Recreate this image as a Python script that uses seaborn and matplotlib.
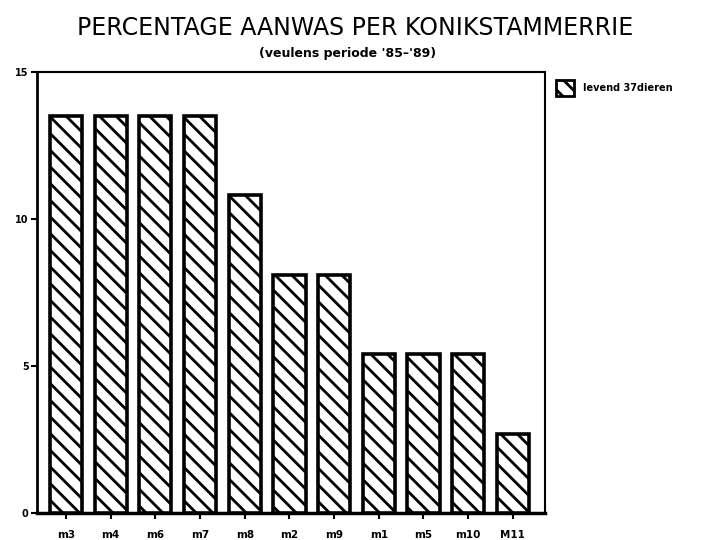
import matplotlib
matplotlib.use("Agg")
import matplotlib.pyplot as plt
import matplotlib.patches as mpatches
import seaborn as sns
import pandas as pd

mares = ["m3", "m4", "m6", "m7", "m8", "m2", "m9", "m1", "m5", "m10", "M11"]
pct_foals = [13.5, 13.5, 13.5, 13.5, 10.8, 8.1, 8.1, 5.4, 5.4, 5.4, 2.7]
y_ticks = [0, 5, 10, 15]
legend_label = "levend 37dieren"

df = pd.DataFrame({"merrie": mares, "aanwas": pct_foals})

sns.set_style("white")
plt.rcParams["font.family"] = ["DejaVu Sans"]
plt.rcParams["hatch.linewidth"] = 2.0
plt.rcParams["text.color"] = "black"
plt.rcParams["xtick.color"] = "black"
plt.rcParams["ytick.color"] = "black"

fig = plt.figure(figsize=(7.08, 5.4), dpi=100)
ax = fig.add_axes([37 / 708, 27 / 540, 508 / 708, 441 / 540])

sns.barplot(data=df, x="merrie", y="aanwas", color="white", edgecolor="black",
            linewidth=2.6, width=0.72, ax=ax, zorder=3)
for bar in ax.patches:
    bar.set_hatch("\\\\")
    bar.set_facecolor("white")

ax.set_xlim(-0.65, 10.72)
ax.set_ylim(0, 15)
ax.set_yticks(y_ticks)
ax.set_yticklabels([str(t) for t in y_ticks], fontsize=7, fontweight="bold")
ax.set_xticks(range(len(mares)))
ax.set_xticklabels(mares, fontsize=7.5, fontweight="bold")
ax.tick_params(axis="both", direction="out", length=4, width=1.5, color="black",
               left=True, bottom=True, pad=2)
ax.tick_params(axis="x", pad=8)
ax.set_xlabel("")
ax.set_ylabel("")
for side in ["left", "right", "top", "bottom"]:
    ax.spines[side].set_visible(True)
    ax.spines[side].set_color("black")
ax.spines["left"].set_linewidth(2)
ax.spines["bottom"].set_linewidth(2.5)
ax.spines["top"].set_linewidth(1.5)
ax.spines["right"].set_linewidth(1.5)

handle = mpatches.Patch(facecolor="white", edgecolor="black", hatch="\\\\",
                        linewidth=2, label=legend_label)
fig.legend(handles=[handle], loc="upper left", bbox_to_anchor=(556 / 708, 1 - 80 / 540),
           frameon=False, prop={"size": 7, "weight": "bold"}, handlelength=1.9,
           handleheight=2.2, handletextpad=0.9, borderaxespad=0, borderpad=0)

fig.text(355 / 708, 1 - 28 / 540, "PERCENTAGE AANWAS PER KONIKSTAMMERRIE",
         ha="center", va="center", fontsize=17, color="black")
fig.text(348 / 708, 1 - 53 / 540, "(veulens periode '85\u2013'89)",
         ha="center", va="center", fontsize=9, fontweight="bold", color="black")

fig.savefig("out.png", dpi=100)
